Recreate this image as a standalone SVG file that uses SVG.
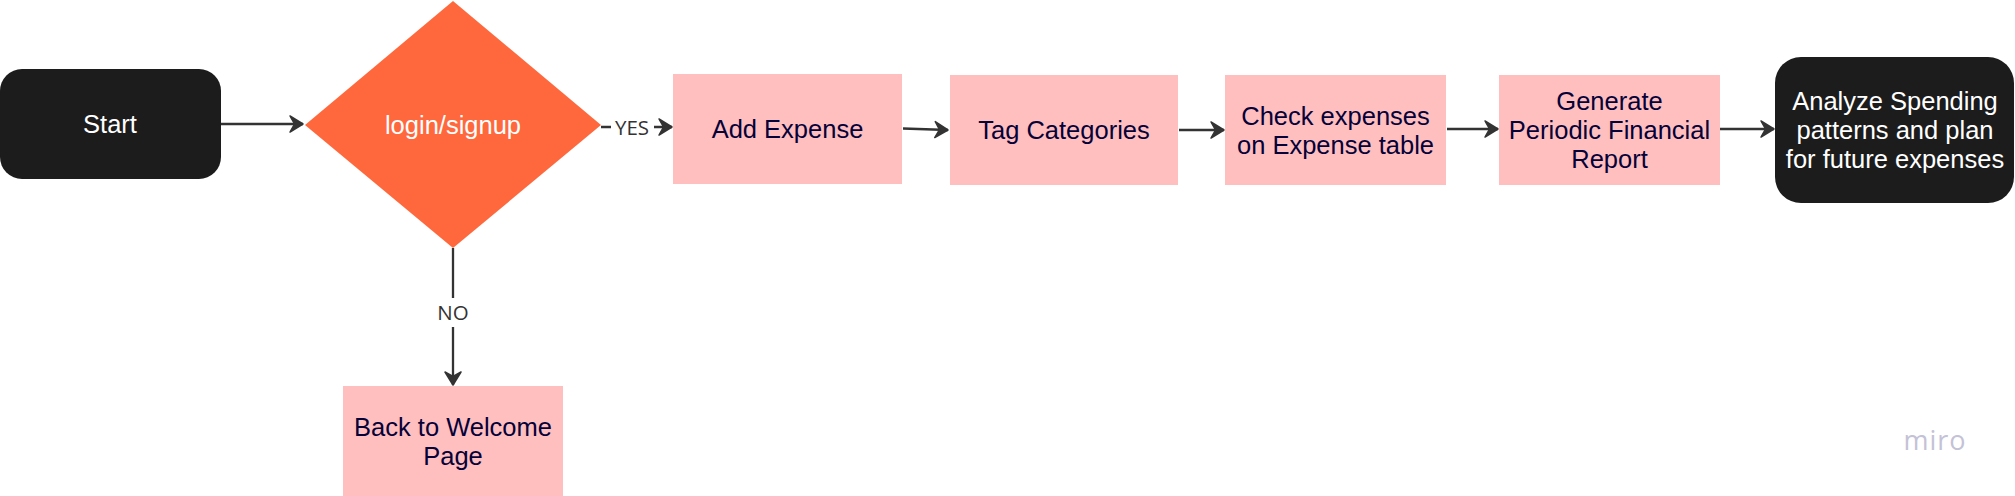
<svg xmlns="http://www.w3.org/2000/svg" width="2015" height="496" viewBox="0 0 2015 496">
<style>
.dark{fill:#1c1c1c}
.pink{fill:#ffbfbf}
.dec{fill:#ff683c}
.t{font-family:"Liberation Sans",Arial,sans-serif;font-size:25.5px;text-anchor:middle}
.tw{fill:#ffffff}
.tn{fill:#050038}
.lbl{font-family:"Open Sans","DejaVu Sans",sans-serif;font-size:20.5px;fill:#333333;text-anchor:middle}
.c{stroke:#333333;stroke-width:2.3;fill:none}
</style>
<defs>
<marker id="ah" markerUnits="userSpaceOnUse" markerWidth="24" markerHeight="24" viewBox="-16 -12 24 24" refX="0" refY="0" orient="auto">
<path d="M 0 0 L -13 -8 L -8.5 0 L -13 8 Z" fill="#333333" stroke="#333333" stroke-width="1.5" stroke-linejoin="round"/>
</marker>
</defs>
<rect width="2015" height="496" fill="#ffffff"/>
<g id="connectors">
<line class="c" x1="221" y1="124" x2="303" y2="124" marker-end="url(#ah)"/>
<line class="c" x1="601" y1="127" x2="672" y2="127" marker-end="url(#ah)"/>
<rect x="611" y="112" width="43" height="28" fill="#ffffff"/>
<text class="lbl" x="632" y="135">YES</text>
<line class="c" x1="903" y1="128.5" x2="948" y2="130" marker-end="url(#ah)"/>
<line class="c" x1="1179" y1="130" x2="1224" y2="130" marker-end="url(#ah)"/>
<line class="c" x1="1447" y1="129" x2="1498" y2="129" marker-end="url(#ah)"/>
<line class="c" x1="1720" y1="129" x2="1774" y2="129" marker-end="url(#ah)"/>
<line class="c" x1="453" y1="248" x2="453" y2="385" marker-end="url(#ah)"/>
<rect x="435" y="298" width="36" height="29" fill="#ffffff"/>
<text class="lbl" x="453" y="320">NO</text>
</g>
<g id="start">
<rect class="dark" x="0" y="69" width="221" height="110" rx="22"/>
<text class="t tw" x="110" y="133">Start</text>
</g>
<g id="login">
<polygon class="dec" points="453,1 601,125 453,248 305,125"/>
<text class="t tw" x="453" y="134">login/signup</text>
</g>
<g id="add-expense">
<rect class="pink" x="673" y="74" width="229" height="110"/>
<text class="t tn" x="787.5" y="138">Add Expense</text>
</g>
<g id="tag-categories">
<rect class="pink" x="950" y="75" width="228" height="110"/>
<text class="t tn" x="1064" y="139">Tag Categories</text>
</g>
<g id="check-expenses">
<rect class="pink" x="1225" y="75" width="221" height="110"/>
<text class="t tn" x="1335.5" y="124.5">Check expenses</text>
<text class="t tn" x="1335.5" y="153.5">on Expense table</text>
</g>
<g id="generate-report">
<rect class="pink" x="1499" y="75" width="221" height="110"/>
<text class="t tn" x="1609.5" y="110">Generate</text>
<text class="t tn" x="1609.5" y="139">Periodic Financial</text>
<text class="t tn" x="1609.5" y="168">Report</text>
</g>
<g id="analyze">
<rect class="dark" x="1775" y="57" width="239" height="146" rx="26"/>
<text class="t tw" x="1895" y="110">Analyze Spending</text>
<text class="t tw" x="1895" y="139">patterns and plan</text>
<text class="t tw" x="1895" y="168">for future expenses</text>
</g>
<g id="back-welcome">
<rect class="pink" x="343" y="386" width="220" height="110"/>
<text class="t tn" x="453" y="435.5">Back to Welcome</text>
<text class="t tn" x="453" y="464.5">Page</text>
</g>
<text x="1935" y="450" font-family="'Open Sans','DejaVu Sans',sans-serif" font-size="27" fill="#c4c2d6" text-anchor="middle" letter-spacing="1">miro</text>
</svg>
